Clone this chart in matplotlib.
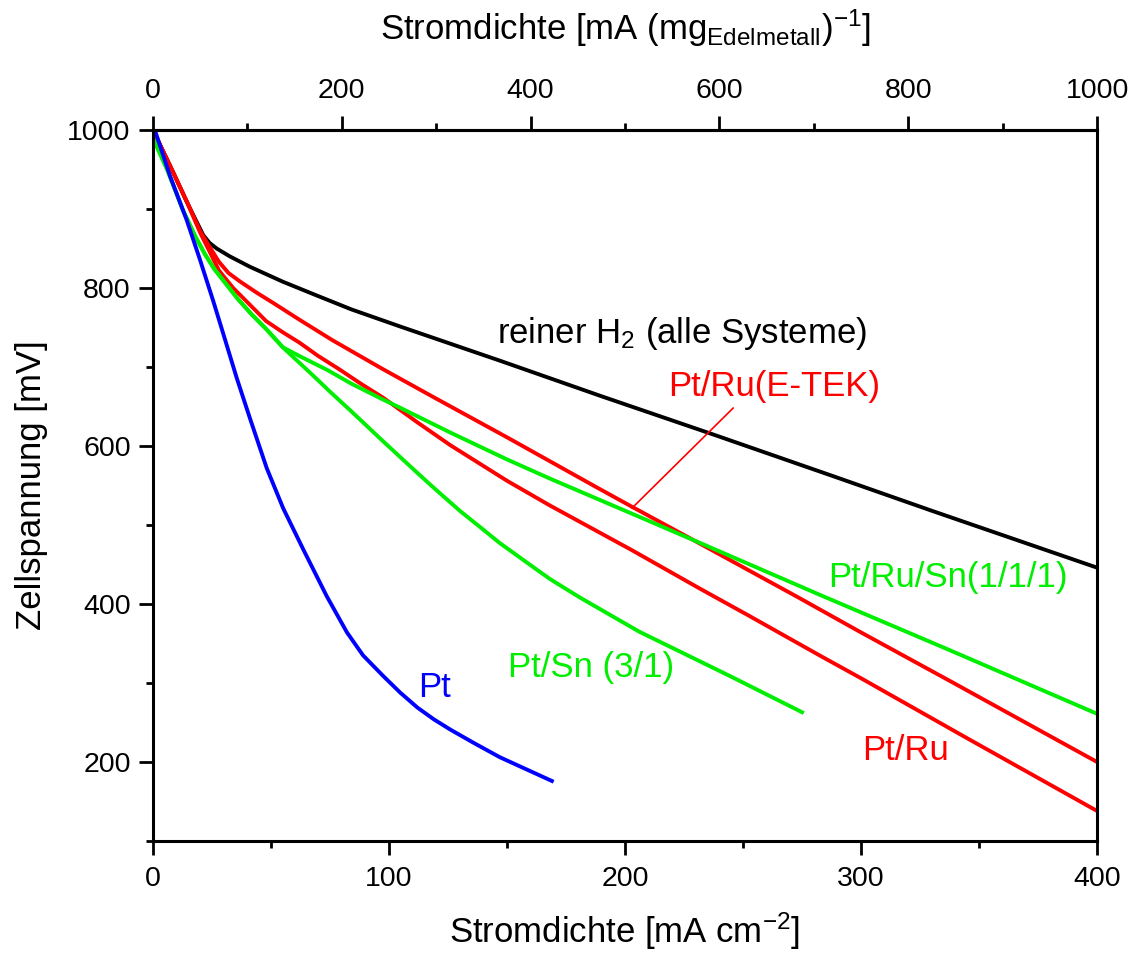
import matplotlib
matplotlib.use("Agg")
import matplotlib.pyplot as plt

plt.rcParams["font.family"] = ["Liberation Sans", "DejaVu Sans"]
plt.rcParams["mathtext.fontset"] = "custom"
plt.rcParams["mathtext.rm"] = "Liberation Sans"
plt.rcParams["mathtext.default"] = "regular"

# current density [mA cm^-2] vs cell voltage [mV]
h2_x = [0, 8, 15, 21.3, 24, 27, 32.6, 41, 55, 69, 84, 105, 147, 190, 236, 288, 330, 400]
h2_y = [1000, 950, 905, 867, 857, 850, 840, 827, 808, 791, 773, 751, 708, 663, 616, 562, 518, 446]

etek_x = [0, 8, 15, 20, 24, 28, 32, 37, 44, 51, 62, 76, 97.6, 120, 150, 168, 189, 203, 232, 273, 300, 338, 400]
etek_y = [1000, 950, 905, 872, 852, 833, 819, 808, 794, 781, 760, 734, 697, 660, 611, 581, 546, 523, 476, 409, 364, 302, 200]

ptru_x = [0, 8, 15, 20, 24, 28, 34, 41, 48, 55, 62, 70, 79, 88, 97.6, 112, 126, 150, 168, 203, 232, 252, 283, 300, 345, 400]
ptru_y = [1000, 950, 905, 870, 846, 822, 800, 779, 758, 744, 731, 714, 697, 679, 661, 630, 601, 556, 525, 468, 419, 386, 334, 306, 230, 138]

ptrusn_x = [0, 6, 12.8, 18, 22, 26, 31, 36, 42, 48, 55, 62, 74, 84, 96, 105, 126, 150, 168, 211, 232, 283, 338, 400]
ptrusn_y = [990, 950, 898, 865, 843, 824, 805, 786, 766, 748, 725, 714, 696, 679, 661, 648, 617, 583, 559, 504, 477, 411, 341, 261]

ptsn_x = [0, 6, 12.8, 18, 22, 26, 31, 36, 42, 48, 55, 60, 66.5, 76, 84, 97.5, 112, 119, 130, 140, 147, 168, 181, 206, 245, 275]
ptsn_y = [990, 950, 898, 865, 843, 824, 805, 786, 766, 748, 725, 711, 693, 666, 644, 606, 566, 547, 518, 494, 477, 432, 408, 365, 308, 263]

pt_x = [0.8, 7.2, 14.3, 19.9, 25.6, 29.8, 35.5, 41.1, 48.2, 55.2, 63.7, 73.6, 82.2, 89, 97.5, 104.7, 112, 119, 126, 136, 147, 169]
pt_y = [1000, 942, 886, 836, 783, 742, 686, 635, 572, 521, 469, 410, 364, 335, 309, 288, 269, 254, 241, 224, 206, 176]

# pointer from the E-TEK label down to its curve
etek_ptr_x = [203, 245.8]
etek_ptr_y = [521.5, 648]

bottom_ticks = [0, 100, 200, 300, 400]
bottom_minor = [50, 150, 250, 350]
left_ticks = [200, 400, 600, 800, 1000]
left_minor = [100, 300, 500, 700, 900]
top_ticks = [0, 200, 400, 600, 800, 1000]
top_minor = [100, 300, 500, 700, 900]

fig = plt.figure(figsize=(11.33, 9.56), dpi=100)
ax = fig.add_axes([0.135, 0.1203, 0.8333, 0.7437])

lw = 2.8
ax.plot(h2_x, h2_y, color="black", lw=lw)
ax.plot(etek_x, etek_y, color="#ff0000", lw=lw)
ax.plot(ptru_x, ptru_y, color="#ff0000", lw=lw)
ax.plot(ptrusn_x, ptrusn_y, color="#00ee00", lw=lw)
ax.plot(ptsn_x, ptsn_y, color="#00ee00", lw=lw)
ax.plot(pt_x, pt_y, color="#0000ff", lw=lw)
ax.plot(etek_ptr_x, etek_ptr_y, color="#ff0000", lw=1.2)

fs_lab = 25
ax.text(145.8, 743, r"reiner H$_2$ (alle Systeme)", fontsize=fs_lab, color="black", va="center")
ax.text(218.2, 675, "Pt/Ru(E-TEK)", fontsize=fs_lab, color="#ff0000", va="center")
ax.text(286, 433, "Pt/Ru/Sn(1/1/1)", fontsize=fs_lab, color="#00ee00", va="center")
ax.text(150.4, 320, "Pt/Sn (3/1)", fontsize=fs_lab, color="#00ee00", va="center")
ax.text(112.3, 294, "Pt", fontsize=fs_lab, color="#0000ff", va="center")
ax.text(300.4, 215, "Pt/Ru", fontsize=fs_lab, color="#ff0000", va="center")

ax.set_xlim(0, 400)
ax.set_ylim(100, 1000)
ax.set_xticks(bottom_ticks)
ax.set_xticks(bottom_minor, minor=True)
ax.set_yticks(left_ticks)
ax.set_yticks(left_minor, minor=True)

for s in ax.spines.values():
    s.set_linewidth(2.2)

fs_tick = 20.5
ax.tick_params(which="both", direction="out", width=2.0, top=False, right=False,
               labelsize=fs_tick)
ax.tick_params(which="major", length=10)
ax.tick_params(which="minor", length=5)
ax.tick_params(axis="x", which="major", pad=8)
ax.tick_params(axis="y", which="major", pad=6)

ax.set_xlabel(r"Stromdichte [mA cm$^{-2}$]", fontsize=fs_lab, labelpad=13)
ax.set_ylabel("Zellspannung [mV]", fontsize=fs_lab, labelpad=14)

secax = ax.secondary_xaxis("top", functions=(lambda x: x * 2.5, lambda x: x / 2.5))
secax.set_xticks(top_ticks)
secax.set_xticks(top_minor, minor=True)
secax.spines["top"].set_linewidth(2.2)
secax.tick_params(which="both", direction="out", width=2.0, labelsize=fs_tick)
secax.tick_params(which="major", length=10, pad=9)
secax.tick_params(which="minor", length=5)
secax.set_xlabel(r"Stromdichte [mA (mg$_{Edelmetall}$)$^{-1}$]", fontsize=fs_lab, labelpad=27)

fig.savefig("out.png", dpi=100)
